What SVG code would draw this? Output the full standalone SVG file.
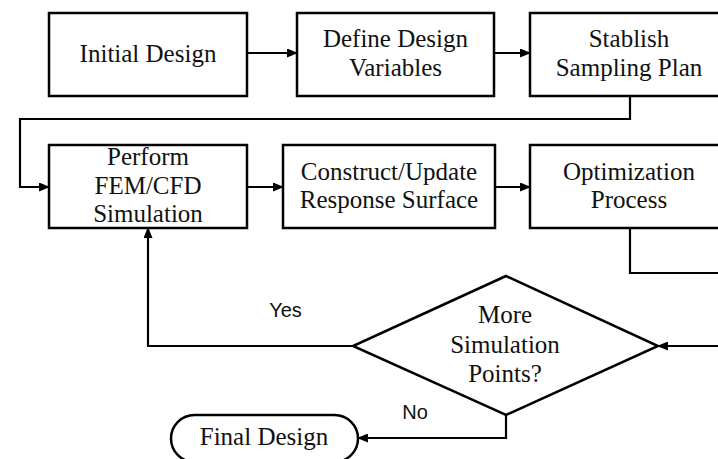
<svg xmlns="http://www.w3.org/2000/svg" width="718" height="459" viewBox="0 0 718 459">
<style>
.box{fill:#fff;stroke:#000;stroke-width:2.5}
.t{font-family:"Liberation Serif","Times New Roman",serif;font-size:25px;fill:#111;text-anchor:middle}
.lbl{font-family:"Liberation Sans",Arial,sans-serif;font-size:20px;fill:#111;text-anchor:middle}
.c{fill:none;stroke:#000;stroke-width:2.2}
.a{marker-end:url(#arr)}
</style>
<defs>
<marker id="arr" markerUnits="userSpaceOnUse" markerWidth="11" markerHeight="9" refX="10" refY="4.5" orient="auto">
<path d="M0,0 L11,4.5 L0,9 z" fill="#000"/>
</marker>
</defs>
<rect width="718" height="459" fill="#fff"/>
<g id="connectors">
<path class="c a" d="M247,53 H297"/>
<path class="c a" d="M494,53 H530"/>
<path class="c a" d="M630,96 V119 H20 V187 H49"/>
<path class="c a" d="M247,187 H283"/>
<path class="c a" d="M495,187 H530"/>
<path class="c" d="M630,228 V273 H720"/>
<path class="c a" d="M720,346 H658"/>
<path class="c a" d="M353,346 H148 V228"/>
<path class="c a" d="M506,415 V438 H358"/>
</g>
<g id="initial-design">
<rect class="box" x="49" y="13" width="198" height="83"/>
<text class="t" x="148" y="62">Initial Design</text>
</g>
<g id="define-variables">
<rect class="box" x="297" y="13" width="197" height="83"/>
<text class="t" x="395.5" y="47">Define Design</text>
<text class="t" x="395.5" y="76">Variables</text>
</g>
<g id="sampling-plan">
<rect class="box" x="530" y="13" width="200" height="83"/>
<text class="t" x="629" y="47">Stablish</text>
<text class="t" x="629" y="76">Sampling Plan</text>
</g>
<g id="fem-cfd">
<rect class="box" x="49" y="145" width="198" height="83"/>
<text class="t" x="148" y="165">Perform</text>
<text class="t" x="148" y="194">FEM/CFD</text>
<text class="t" x="148" y="222">Simulation</text>
</g>
<g id="response-surface">
<rect class="box" x="283" y="145" width="212" height="83"/>
<text class="t" x="389" y="180">Construct/Update</text>
<text class="t" x="389" y="208">Response Surface</text>
</g>
<g id="optimization">
<rect class="box" x="530" y="145" width="200" height="83"/>
<text class="t" x="629" y="180">Optimization</text>
<text class="t" x="629" y="208">Process</text>
</g>
<g id="decision">
<polygon class="box" points="506,276 658,346 506,415 353,346"/>
<text class="t" x="505" y="323">More</text>
<text class="t" x="505" y="353">Simulation</text>
<text class="t" x="505" y="382">Points?</text>
</g>
<g id="final-design">
<rect class="box" x="171" y="415" width="187" height="47" rx="23.5" ry="23.5"/>
<text class="t" x="264" y="445">Final Design</text>
</g>
<g id="labels">
<text class="lbl" x="285.5" y="317">Yes</text>
<text class="lbl" x="415" y="419">No</text>
</g>
</svg>
